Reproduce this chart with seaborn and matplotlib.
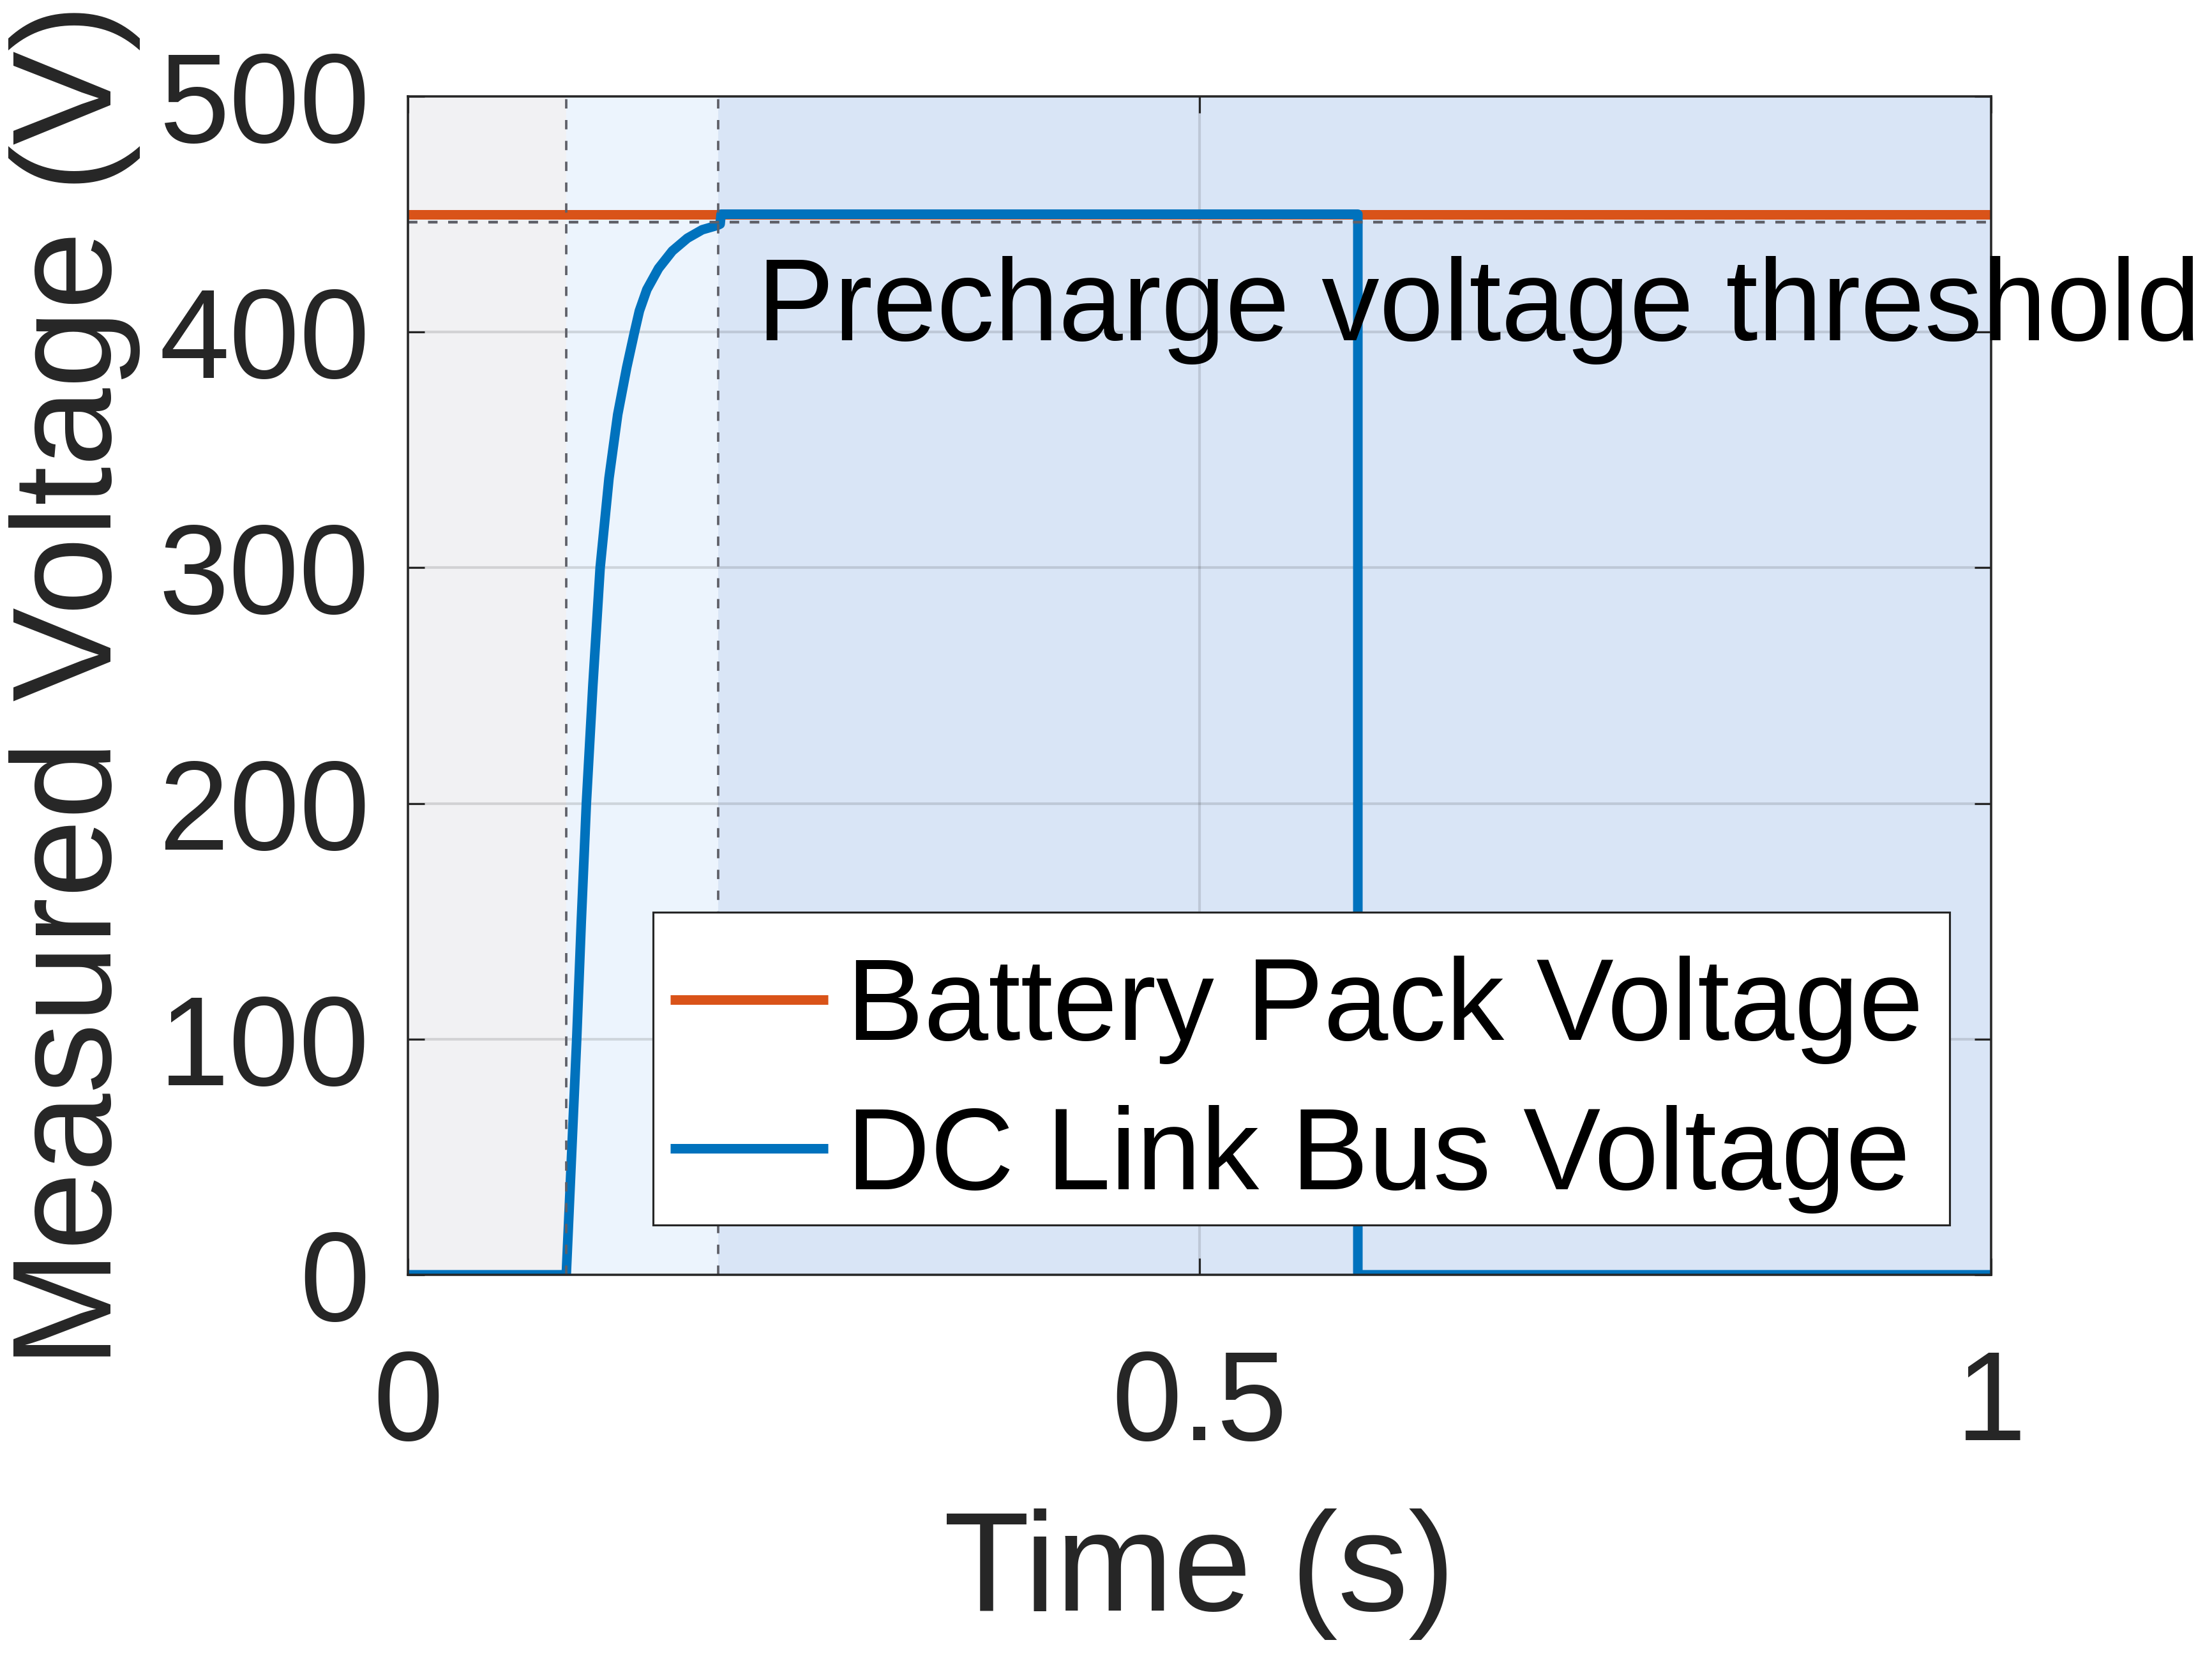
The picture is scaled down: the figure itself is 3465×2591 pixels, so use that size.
import numpy as np
import pandas as pd
import matplotlib
matplotlib.use("Agg")
import matplotlib.pyplot as plt
from matplotlib.patches import Rectangle
import seaborn as sns

# ---------------- data ----------------
battery_time = [0.0, 1.0]
battery_volt = [450.0, 450.0]

dc_time = [0.0, 0.1, 0.1033, 0.1066, 0.1095, 0.1127, 0.1168, 0.1214, 0.127,
           0.1325, 0.1382, 0.1431, 0.1462, 0.1509, 0.1583, 0.167, 0.1765,
           0.1859, 0.1952, 0.1972, 0.1978, 0.6, 0.6, 1.0]
dc_volt = [0.0, 0.0, 50.0, 100.0, 150.0, 200.0, 250.0, 300.0, 338.0,
           365.0, 385.0, 400.0, 409.0, 418.0, 427.0, 434.4, 439.8,
           443.4, 445.2, 445.8, 450.0, 450.0, 0.0, 0.0]

threshold_volt = 446.5
event_times = [0.1, 0.196]          # precharge start / threshold reached
phase_edges = [0.0, 0.1, 0.196, 1.0]
phase_colors = ["#F1F1F3", "#ECF4FD", "#D9E5F6"]

x_ticks = [0, 0.5, 1]
x_tick_labels = ["0", "0.5", "1"]
y_ticks = [0, 100, 200, 300, 400, 500]
y_tick_labels = ["0", "100", "200", "300", "400", "500"]

series_labels = ["Battery Pack Voltage", "DC Link Bus Voltage"]
series_colors = ["#D95319", "#0072BD"]
annotation_text = "Precharge voltage threshold"
annotation_pos = (0.2204, 396.5)
x_label = "Time (s)"
y_label = "Measured Voltage (V)"

# ---------------- styling ----------------
sns.set_theme(style="ticks")
plt.rcParams["font.family"] = ["Liberation Sans", "DejaVu Sans"]
dark = "#262626"

fig = plt.figure(figsize=(11.55, 8.637), dpi=300)
ax = fig.add_axes([0.18442, 0.22925, 0.71573, 0.71247])
ax.set_facecolor("white")

# phase shading
for (x0, x1), c in zip(zip(phase_edges[:-1], phase_edges[1:]), phase_colors):
    ax.axvspan(x0, x1, color=c, lw=0, zorder=0.1)

battery_df = pd.DataFrame({"t": battery_time, "v": battery_volt})
dc_df = pd.DataFrame({"t": dc_time, "v": dc_volt})

lw = 3.6
sns.lineplot(data=battery_df, x="t", y="v", ax=ax, color=series_colors[0],
             label=series_labels[0], estimator=None, sort=False, zorder=2)
sns.lineplot(data=dc_df, x="t", y="v", ax=ax, color=series_colors[1],
             label=series_labels[1], estimator=None, sort=False, zorder=2.05)
for ln in ax.lines:
    ln.set_linewidth(lw)
    ln.set_solid_capstyle("round")
    ln.set_solid_joinstyle("round")

# reference dashed lines
ref_color = "#5F6068"
ax.axhline(threshold_volt, color=ref_color, lw=1.05, dashes=(3.4, 3.8), zorder=2.2)
for t in event_times:
    ax.axvline(t, color=ref_color, lw=0.9, dashes=(3.9, 4.8), zorder=2.2)

ax.set_xlim(0, 1)
ax.set_ylim(0, 500)
ax.set_xticks(x_ticks)
ax.set_xticklabels(x_tick_labels)
ax.set_yticks(y_ticks)
ax.set_yticklabels(y_tick_labels)

ax.set_axisbelow(True)
ax.grid(True, color=dark, alpha=0.15, lw=1.0, zorder=0.5)

for s in ax.spines.values():
    s.set_visible(True)
    s.set_color(dark)
    s.set_linewidth(0.85)
    s.set_zorder(2.5)

ax.tick_params(axis="both", which="both", direction="in", top=True, right=True,
               length=6.3, width=0.75, color=dark, labelcolor=dark, labelsize=47.5)
ax.tick_params(axis="x", pad=27.6)
ax.tick_params(axis="y", pad=14.4)

ax.set_xlabel(x_label, fontsize=53, color=dark, va="baseline")
ax.xaxis.set_label_coords(0.5, -0.285)
ax.set_ylabel(y_label, fontsize=53, color=dark, va="baseline")
ax.yaxis.set_label_coords(-0.1875, 0.5)

ax.text(annotation_pos[0], annotation_pos[1], annotation_text, fontsize=43.4,
        color="black", ha="left", va="baseline", zorder=3, clip_on=False)

# legend box (drawn separately so that its padding can match the reference)
ax.add_patch(Rectangle((0.1548, 0.04225), 0.819, 0.2654, transform=ax.transAxes,
                       facecolor="white", edgecolor=dark, lw=0.75,
                       zorder=4.9, clip_on=False))
leg = ax.legend(loc="upper left", bbox_to_anchor=(0.1548, 0.2855),
                borderaxespad=0, fontsize=43.6, frameon=False,
                handlelength=1.357, handletextpad=0.16, borderpad=0.15,
                labelspacing=0.35, labelcolor="black")
leg.set_zorder(5)
for h in leg.get_lines():
    h.set_linewidth(lw)
    h.set_solid_capstyle("butt")

fig.savefig("out.png", dpi=300)
